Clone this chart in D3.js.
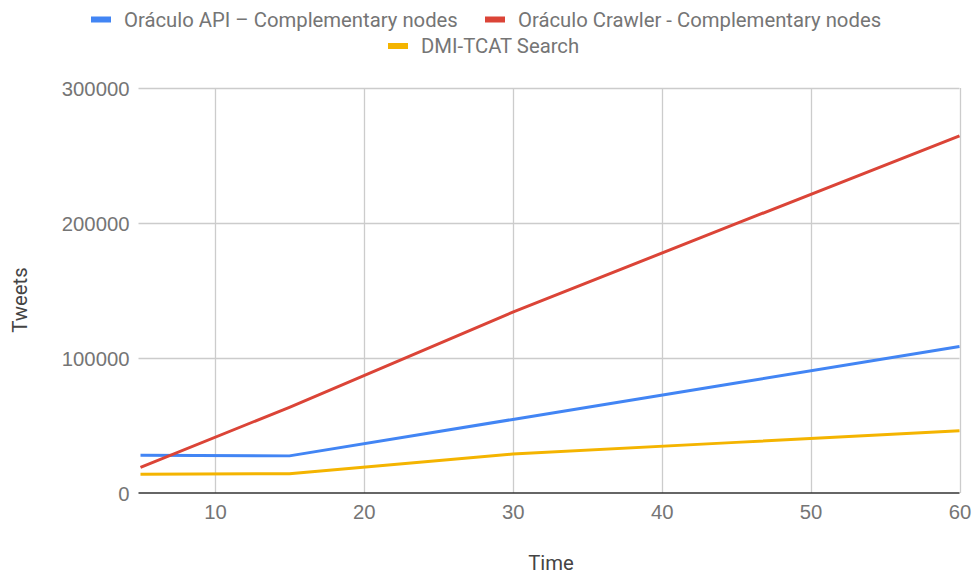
<!DOCTYPE html>
<html>
<head>
<meta charset="utf-8">
<script src="https://cdn.jsdelivr.net/npm/d3@7"></script>
<style>
  html, body { margin: 0; padding: 0; background: #fff; }
  svg { display: block; font-family: Roboto, "Noto Sans", sans-serif; }
</style>
</head>
<body>
<svg id="chart" width="973" height="574"></svg>
<script>
// Time points (x axis)
const times = [5, 15, 30, 45, 60];

// Tweets collected per method
const apiValues     = [28000, 27500, 54500, 81500, 108500];
const crawlerValues = [19000, 63500, 134000, 199500, 264500];
const tcatValues    = [13800, 14300, 28900, 37500, 46100];

const seriesNames  = ["Oráculo API – Complementary nodes", "Oráculo Crawler - Complementary nodes", "DMI-TCAT Search"];
const seriesColors = ["#4285F4", "#DB4437", "#F4B400"];

const xTicks = [10, 20, 30, 40, 50, 60];
const yTicks = [0, 100000, 200000, 300000];

const xTitle = "Time";
const yTitle = "Tweets";

const series = [apiValues, crawlerValues, tcatValues].map((vals, i) => ({
  name: seriesNames[i],
  color: seriesColors[i],
  points: vals.map((v, j) => ({ x: times[j], y: v }))
}));

const svg = d3.select("#chart");
const margin = { left: 140.5, right: 13.5, top: 88, bottom: 81 };
const W = 973, H = 574;

const x = d3.scaleLinear().domain([5, 60]).range([margin.left, W - margin.right]);
const y = d3.scaleLinear().domain([0, 300000]).range([H - margin.bottom, margin.top]);

const tickColor = "#757575";
const fontSize = 20.3;

// Gridlines
const grid = svg.append("g");
grid.selectAll("line.h").data(yTicks.filter(d => d > 0)).join("line")
  .attr("x1", margin.left - 2).attr("x2", W - margin.right)
  .attr("y1", d => Math.round(y(d)) + 0.5).attr("y2", d => Math.round(y(d)) + 0.5)
  .attr("stroke", "#cccccc").attr("stroke-width", 1.3);
grid.selectAll("line.v").data(xTicks).join("line")
  .attr("x1", d => Math.round(x(d)) + 0.5).attr("x2", d => Math.round(x(d)) + 0.5)
  .attr("y1", margin.top).attr("y2", y(0))
  .attr("stroke", "#cccccc").attr("stroke-width", 1.3);

// Y axis labels
const yAxis = d3.axisLeft(y).tickValues(yTicks).tickSize(0).tickPadding(0).tickFormat(d3.format("d"));
const gy = svg.append("g").attr("transform", `translate(${margin.left - 11},0)`).call(yAxis);
gy.select(".domain").remove();
gy.selectAll("text").attr("fill", tickColor).style("font-size", fontSize + "px").attr("dy", "0.35em");

// X axis labels
const xAxis = d3.axisBottom(x).tickValues(xTicks).tickSize(0).tickPadding(0);
const gx = svg.append("g").attr("transform", `translate(0,${y(0) + 12})`).call(xAxis);
gx.select(".domain").remove();
gx.selectAll("text").attr("fill", tickColor).style("font-size", fontSize + "px").attr("dy", "0.71em");

// Lines
const line = d3.line().x(d => x(d.x)).y(d => y(d.y));
svg.append("g").selectAll("path").data(series).join("path")
  .attr("d", d => line(d.points))
  .attr("fill", "none")
  .attr("stroke", d => d.color)
  .attr("stroke-width", 3)
  .attr("stroke-linejoin", "round");

// Baseline
svg.append("line")
  .attr("x1", margin.left - 2).attr("x2", W - margin.right)
  .attr("y1", y(0)).attr("y2", y(0))
  .attr("stroke", "#333333").attr("stroke-width", 1.6);

// Axis titles
svg.append("text").text(xTitle)
  .attr("x", 551).attr("y", 570).attr("text-anchor", "middle")
  .attr("fill", "#444").style("font-size", fontSize + "px");
svg.append("text").text(yTitle)
  .attr("transform", `translate(27,300) rotate(-90)`).attr("text-anchor", "middle")
  .attr("fill", "#444").style("font-size", fontSize + "px");

// Legend
const legendRows = [
  [{ s: series[0], sx: 91 }, { s: series[1], sx: 485 }],
  [{ s: series[2], sx: 388 }]
];
const rowY = [19.5, 46];
legendRows.forEach((row, r) => {
  const g = svg.append("g");
  row.forEach(item => {
    g.append("rect").attr("x", item.sx).attr("y", rowY[r] - 3).attr("width", 20).attr("height", 6)
      .attr("fill", item.s.color);
    g.append("text").text(item.s.name)
      .attr("x", item.sx + 33).attr("y", rowY[r]).attr("dy", "0.35em")
      .attr("fill", tickColor).style("font-size", fontSize + "px");
  });
});
</script>
</body>
</html>
